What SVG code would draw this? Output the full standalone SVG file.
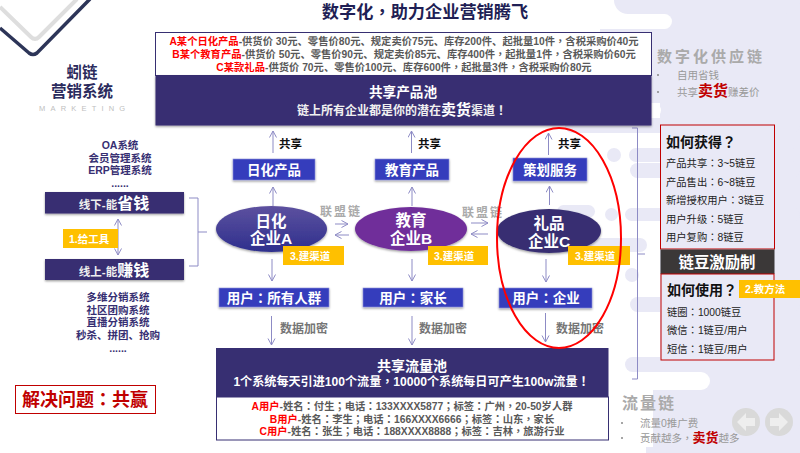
<svg xmlns="http://www.w3.org/2000/svg" width="800" height="453" viewBox="0 0 800 453">
<style>
text{font-family:"Liberation Sans","Noto Sans CJK SC",sans-serif;font-weight:700}
.p{font-family:"Noto Sans CJK TC",sans-serif}
.m{text-anchor:middle}
.navy{fill:#372f72}
.blue{fill:#353cbc;stroke:#8f93dc;stroke-width:.6;filter:url(#sh)}
.tag{fill:#ffc000}
.wt{fill:#fff}
.tt{fill:#fff;font-size:10.5px}
.bx{fill:#fff;font-size:13.5px;text-anchor:middle}
.li{fill:#372f72;font-size:10.5px;text-anchor:middle}
.ro{fill:#595959;font-size:10.3px;text-anchor:middle}
.rd{fill:#f00}
.dk{fill:#c00000}
.gy{fill:#767676;font-size:12px}
.lm{fill:#aaa;font-size:12px;letter-spacing:2px}
.sm{fill:#999;font-size:10.5px;font-weight:400}
.rw{fill:#222;font-size:10.3px;font-weight:400}
.hd{fill:#111;font-size:14px}
.cn{stroke:#8d8bc5;stroke-width:1;fill:none;marker-end:url(#ah)}
.pl{fill:#e9e9f6}
.wp{fill:#fff}
</style>
<defs>
<marker id="ah" markerWidth="10" markerHeight="10" refX="7.5" refY="4" orient="auto" markerUnits="userSpaceOnUse"><path d="M1 .5L7.5 4L1 7.5" fill="none" stroke="#8d8bc5" stroke-width="1"/></marker>
<marker id="as" markerWidth="10" markerHeight="10" refX="7.5" refY="4" orient="auto-start-reverse" markerUnits="userSpaceOnUse"><path d="M1 .5L7.5 4L1 7.5" fill="none" stroke="#8d8bc5" stroke-width="1"/></marker>
<filter id="sh" x="-10%" y="-20%" width="120%" height="150%"><feDropShadow dx="0" dy="1.2" stdDeviation="1" flood-color="#000" flood-opacity=".4"/></filter>
<linearGradient id="ga" x1="0" y1="0" x2="0" y2="1"><stop offset="0" stop-color="#5d519f"/><stop offset="1" stop-color="#2e2f8d"/></linearGradient>
</defs>
<rect width="800" height="453" fill="#fff"/>
<g id="background">
<rect class="pl" x="660" y="0" width="140" height="453"/>
<rect class="pl" x="614" y="-14" width="186" height="28" rx="14"/>
<rect class="wp" x="600" y="14" width="72" height="15" rx="7.5"/>
<rect class="pl" x="600" y="29" width="200" height="74"/>
<rect class="wp" x="640" y="103" width="21" height="15" rx="7.5"/>
<rect class="pl" x="565" y="118" width="235" height="15" rx="7.5"/>
<rect class="pl" x="607" y="148" width="14" height="14" rx="7"/>
<rect class="pl" x="629" y="148" width="171" height="14" rx="7"/>
<rect class="pl" x="630" y="163" width="170" height="15" rx="7.5"/>
<rect class="pl" x="557" y="205" width="38" height="13" rx="6.5"/>
<rect class="pl" x="605" y="208" width="13" height="13" rx="6.5"/>
<rect class="pl" x="625" y="208" width="175" height="13" rx="6.5"/>
<rect class="pl" x="570" y="238" width="77" height="14" rx="7"/>
<rect class="pl" x="625" y="268" width="14" height="14" rx="7"/>
<rect class="pl" x="630" y="297" width="170" height="15" rx="7.5"/>
<rect class="pl" x="625" y="357" width="175" height="15" rx="7.5"/>
<rect class="wp" x="640" y="372" width="70" height="18" rx="9"/>
<rect class="pl" x="653" y="390" width="147" height="57"/>
<rect class="pl" x="646" y="447" width="154" height="6"/>
<path d="M0 7L31 37Q35 41 39 37L77 -1" fill="none" stroke="#dedede" stroke-width="4"/>
<path d="M0 28L29 53Q33 56 37 53L90 -1" fill="none" stroke="#2d3558" stroke-width="3.5"/>
</g>
<g id="title"><text class="m" x="425" y="18" font-size="17.2" fill="#1f1f55">数字化<tspan class="p">，</tspan>助力企业营销腾飞</text></g>
<g id="brand">
<text class="m" x="82" y="78" font-size="15.5" fill="#2a2a5c">蚓链</text>
<text class="m" x="82" y="97" font-size="15.5" fill="#2a2a5c">营销系统</text>
<text x="39" y="111" font-size="7.5" fill="#c0c0c0" style="font-weight:400;letter-spacing:5.2px">MARKETING</text>
</g>
<g id="connectors">
<path class="cn" d="M273 153V131"/><path class="cn" d="M411.5 153V131"/><path class="cn" d="M548.5 155V133"/>
<path class="cn" d="M273 206V187"/><path class="cn" d="M412 206V187"/><path class="cn" d="M549.5 205V186"/>
<path class="cn" d="M272 259V281"/><path class="cn" d="M412 259V281"/><path class="cn" d="M546 259V282"/>
<path class="cn" d="M271.500 316V345"/><path class="cn" d="M412 316V345"/><path class="cn" d="M545.500 313V342"/>
<path class="cn" d="M335 224H348"/><path class="cn" d="M349 235H335"/><path class="cn" d="M471 223H488"/><path class="cn" d="M488 234H471"/>
<path d="M118 219V255" stroke="#8d8bc5" fill="none" marker-start="url(#as)" marker-end="url(#as)"/>
<path d="M189 198H198V266H189M198 232H207" fill="none" stroke="#8d8bc5"/>
<path d="M632 128H637.500V379H632M637.500 254H645" fill="none" stroke="#8d8bc5"/>
</g>
<g id="product-pool">
<rect x="155.500" y="32.500" width="496" height="43" fill="#fff" stroke="#372f72"/>
<rect class="navy" x="155.500" y="75.500" width="496" height="50" filter="url(#sh)"/>
<text class="ro" x="404" y="45"><tspan class="rd">A某个日化产品</tspan>-供货价 30元、零售价80元、规定卖价75元、库存200件、起批量10件<tspan class="p">，</tspan>含税采购价40元</text>
<text class="ro" x="404" y="58"><tspan class="rd">B某个教育产品</tspan>-供货价 50元、零售价90元、规定卖价85元、库存400件<tspan class="p">，</tspan>起批量1件<tspan class="p">，</tspan>含税采购价60元</text>
<text class="ro" x="404" y="70.500"><tspan class="rd">C某款礼品</tspan>-供货价 70元、零售价100元、库存600件<tspan class="p">，</tspan>起批量3件<tspan class="p">，</tspan>含税采购价80元</text>
<text class="m wt" x="403" y="97" font-size="13.600">共享产品池</text>
<text class="m" x="402" y="115" font-size="12" fill="#f0f0f0">链上所有企业都是你的潜在<tspan font-size="15" fill="#fff">卖货</tspan>渠道<tspan class="p">！</tspan></text>
</g>
<g id="share-labels">
<text x="279" y="147.500" font-size="11.500" fill="#111">共享</text>
<text x="418" y="147.500" font-size="11.500" fill="#111">共享</text>
<text x="558" y="147.500" font-size="11.500" fill="#111">共享</text>
</g>
<g id="product-a"><rect class="blue" x="233" y="159" width="82" height="21"/><text class="bx" x="274" y="175">日化产品</text></g>
<g id="product-b"><rect class="blue" x="375" y="159" width="74" height="21"/><text class="bx" x="412" y="175">教育产品</text></g>
<g id="product-c"><rect class="blue" x="513" y="158" width="74" height="23"/><text class="bx" x="550" y="175">策划服务</text></g>
<g id="company-a"><ellipse cx="271.500" cy="229" rx="55.500" ry="23" fill="url(#ga)" filter="url(#sh)"/><text class="m wt" x="271" y="226.500" font-size="15.500">日化</text><text class="m wt" x="271" y="244" font-size="15.500">企业A</text></g>
<g id="company-b"><ellipse cx="411" cy="229" rx="56" ry="22" fill="#702f9a" filter="url(#sh)"/><text class="m wt" x="411" y="225.500" font-size="15.500">教育</text><text class="m wt" x="411" y="243.500" font-size="15.500">企业B</text></g>
<g id="company-c"><ellipse cx="549" cy="231" rx="52" ry="22" fill="#372f72" filter="url(#sh)"/><text class="m wt" x="549" y="229" font-size="15.500">礼品</text><text class="m wt" x="549" y="247" font-size="15.500">企业C</text></g>
<g id="alliance"><text class="lm" x="320" y="215.500">联盟链</text><text class="lm" x="462" y="216.500">联盟链</text></g>
<g id="tag-a"><rect class="tag" x="283" y="246" width="61" height="19"/><text class="tt" x="290" y="259.500">3.建渠道</text></g>
<g id="tag-b"><rect class="tag" x="428" y="246" width="60" height="19"/><text class="tt" x="434" y="259.500">3.建渠道</text></g>
<g id="tag-c"><rect class="tag" x="568" y="246" width="62" height="19"/><text class="tt" x="575" y="259.500">3.建渠道</text></g>
<g id="user-a"><rect class="blue" x="219" y="288" width="110" height="19"/><text class="bx" x="274" y="303">用户<tspan class="p">：</tspan>所有人群</text></g>
<g id="user-b"><rect class="blue" x="363" y="288" width="100" height="19"/><text class="bx" x="413" y="303">用户<tspan class="p">：</tspan>家长</text></g>
<g id="user-c"><rect class="blue" x="499" y="288" width="93" height="20"/><text class="bx" x="546" y="303">用户<tspan class="p">：</tspan>企业</text></g>
<g id="encrypt"><text class="gy" x="280" y="332.500">数据加密</text><text class="gy" x="419" y="332.500">数据加密</text><text class="gy" x="556" y="332.500">数据加密</text></g>
<g id="offline-list">
<text class="li" x="120" y="149">OA系统</text><text class="li" x="120" y="162">会员管理系统</text><text class="li" x="120" y="174">ERP管理系统</text><text class="li" x="120" y="187">......</text>
</g>
<g id="offline"><rect class="navy" x="45" y="192" width="139" height="21.500" filter="url(#sh)"/><text class="m" x="114" y="209" font-size="11.500" fill="#eee">线下-能<tspan font-size="16" fill="#fff">省钱</tspan></text></g>
<g id="tool-tag"><rect class="tag" x="63" y="229" width="55" height="19"/><text class="tt" x="69" y="242.500">1.给工具</text></g>
<g id="online"><rect class="navy" x="45" y="259" width="139" height="21" filter="url(#sh)"/><text class="m" x="114" y="276" font-size="11.500" fill="#eee">线上-能<tspan font-size="16" fill="#fff">赚钱</tspan></text></g>
<g id="online-list">
<text class="li" x="118" y="301">多维分销系统</text><text class="li" x="118" y="314">社区团购系统</text><text class="li" x="118" y="326">直播分销系统</text><text class="li" x="118" y="339">秒杀、拼团、抢购</text><text class="li" x="118" y="352">......</text>
</g>
<g id="solve"><rect x="15.500" y="385.500" width="140" height="28" fill="#fff" stroke="#c00000"/><text class="m dk" x="85" y="406" font-size="18">解决问题<tspan class="p">：</tspan>共赢</text></g>
<g id="traffic-pool">
<rect x="216.500" y="397" width="392" height="43" fill="#fff" stroke="#372f72"/>
<rect class="navy" x="216" y="348" width="392.500" height="49"/>
<text class="m wt" x="412" y="371" font-size="14">共享流量池</text>
<text class="m wt" x="411.500" y="385.500" font-size="12.100">1个系统每天引进100个流量<tspan class="p">，</tspan>10000个系统每日可产生100w流量<tspan class="p">！</tspan></text>
<text class="ro" x="412" y="410"><tspan class="rd">A用户</tspan>-姓名<tspan class="p">：</tspan>付生<tspan class="p">；</tspan>电话<tspan class="p">：</tspan>133XXXX5877<tspan class="p">；</tspan>标签<tspan class="p">：</tspan>广州<tspan class="p">，</tspan>20-50岁人群</text>
<text class="ro" x="412" y="423"><tspan class="rd">B用户</tspan>-姓名<tspan class="p">：</tspan>李生<tspan class="p">；</tspan>电话<tspan class="p">：</tspan>166XXXX6666<tspan class="p">；</tspan>标签<tspan class="p">：</tspan>山东<tspan class="p">，</tspan>家长</text>
<text class="ro" x="412" y="435"><tspan class="rd">C用户</tspan>-姓名<tspan class="p">：</tspan>张生<tspan class="p">；</tspan>电话<tspan class="p">：</tspan>188XXXX8888<tspan class="p">；</tspan>标签<tspan class="p">：</tspan>吉林<tspan class="p">，</tspan>旅游行业</text>
</g>
<g id="focus-ring"><ellipse cx="559" cy="238" rx="62" ry="110" fill="none" stroke="#f00" stroke-width="2"/></g>
<g id="supply-chain">
<text x="657" y="62" font-size="15" fill="#aaa" letter-spacing="3">数字化供应链</text>
<circle cx="658" cy="75" r="1" fill="#888"/><circle cx="658" cy="92" r="1" fill="#888"/>
<text class="sm" x="677" y="79">自用省钱</text>
<text class="sm" x="677" y="96">共享<tspan class="dk" font-size="15" font-weight="700">卖货</tspan>赚差价</text>
</g>
<g id="earn">
<rect x="660.500" y="125" width="114" height="124" fill="none" stroke="#c00000"/>
<text class="hd" x="666" y="147">如何获得<tspan class="p">？</tspan></text>
<text class="rw" x="666" y="167">产品共享<tspan class="p">：</tspan>3~5链豆</text>
<text class="rw" x="666" y="186">产品售出<tspan class="p">：</tspan>6~8链豆</text>
<text class="rw" x="666" y="204">新增授权用户<tspan class="p">：</tspan>3链豆</text>
<text class="rw" x="666" y="222.500">用户升级<tspan class="p">：</tspan>5链豆</text>
<text class="rw" x="666" y="241">用户复购<tspan class="p">：</tspan>8链豆</text>
</g>
<g id="incentive"><rect x="660.500" y="249.500" width="114" height="24.500" fill="#3b3838"/><text class="m wt" x="717" y="267.500" font-size="15.400">链豆激励制</text></g>
<g id="use">
<rect x="661" y="274" width="113" height="86" fill="none" stroke="#c00000"/>
<text class="hd" x="667" y="295">如何使用<tspan class="p">？</tspan></text>
<text class="rw" x="667" y="315.500">链圈<tspan class="p">：</tspan>1000链豆</text>
<text class="rw" x="667" y="334">微信<tspan class="p">：</tspan>1链豆/用户</text>
<text class="rw" x="667" y="352.500">短信<tspan class="p">：</tspan>1链豆/用户</text>
</g>
<g id="method-tag"><rect class="tag" x="739" y="280" width="61" height="18"/><text class="tt" x="745" y="293">2.教方法</text></g>
<g id="traffic-chain">
<text x="622" y="409" font-size="16" fill="#aaa" letter-spacing="2">流量链</text>
<circle cx="622" cy="423" r="1" fill="#888"/><circle cx="622" cy="438" r="1" fill="#888"/>
<text class="sm" x="640" y="427">流量0推广费</text>
<text class="sm" x="640" y="442">贡献越多<tspan class="p">，</tspan><tspan class="dk" font-size="13" font-weight="700">卖货</tspan>越多</text>
</g>
<g id="nav">
<circle cx="746" cy="422" r="14" fill="#d9d9d9"/><path d="M737 422L746 413V418H755V426H746V431Z" fill="#eee"/>
<circle cx="779" cy="422" r="14" fill="#d9d9d9"/><path d="M788 422L779 413V418H770V426H779V431Z" fill="#eee"/>
</g>
</svg>
